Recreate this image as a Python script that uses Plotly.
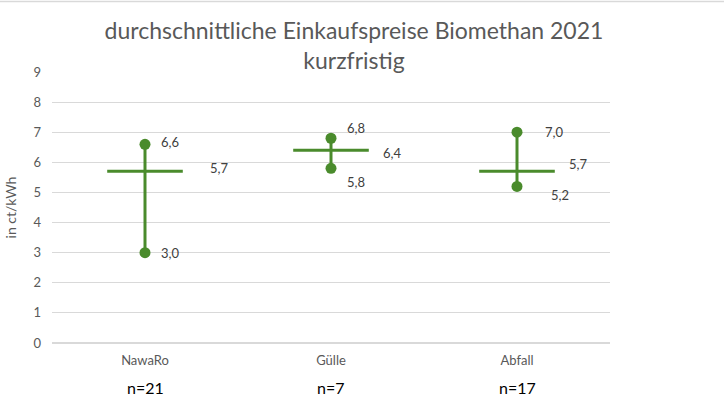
import plotly.graph_objects as go

categories = ["NawaRo", "Gülle", "Abfall"]
n_labels = ["n=21", "n=7", "n=17"]
max_vals = [6.6, 6.8, 7.0]
min_vals = [3.0, 5.8, 5.2]
avg_vals = [5.7, 6.4, 5.7]
y_ticks = [0, 1, 2, 3, 4, 5, 6, 7, 8, 9]

GREEN = "#4a8b2c"
GRAY = "#595959"
FONT = "Lato"

W, H = 724, 410
ml, mr, mt, mb = 52, 114, 72, 67

fig = go.Figure()

# high-low vertical lines with end markers
for c, lo, hi in zip(categories, min_vals, max_vals):
    fig.add_trace(go.Scatter(
        x=[c, c], y=[lo, hi], mode="lines+markers",
        line=dict(color=GREEN, width=3),
        marker=dict(color=GREEN, size=11),
        showlegend=False, hoverinfo="skip"))

# average as horizontal dash
fig.add_trace(go.Scatter(
    x=categories, y=avg_vals, mode="markers",
    marker=dict(symbol="line-ew-open", size=54, color=GREEN,
                line=dict(color=GREEN, width=3)),
    showlegend=False, hoverinfo="skip"))

def fmt(v):
    return f"{v:.1f}".replace(".", ",")

annotations = []
max_off = [(25, 2), (25, 10), (37, 0)]
min_off = [(25, 0), (25, -14), (43, -9)]
avg_off = [(74, 3), (61, -3), (61, 7)]
for i, c in enumerate(categories):
    for v, (dx, dy) in [(max_vals[i], max_off[i]), (min_vals[i], min_off[i]), (avg_vals[i], avg_off[i])]:
        annotations.append(dict(x=c, y=v, xref="x", yref="y", text=fmt(v),
                                showarrow=False, xshift=dx, yshift=dy,
                                font=dict(family=FONT, size=13, color="#404040")))
    annotations.append(dict(x=c, y=-0.165, xref="x", yref="paper", text=n_labels[i],
                            showarrow=False, yanchor="middle",
                            font=dict(family=FONT, size=16, color="black")))

fig.update_layout(
    width=W, height=H,
    margin=dict(l=ml, r=mr, t=mt, b=mb, autoexpand=False),
    paper_bgcolor="white", plot_bgcolor="white",
    title=dict(text="durchschnittliche Einkaufspreise Biomethan 2021<br>kurzfristig",
               x=354 / W, xanchor="center", y=0.905, yanchor="top",
               font=dict(family=FONT, size=23, color=GRAY)),
    xaxis=dict(type="category", categoryarray=categories, range=[-0.5, 2.5],
               showgrid=False, showline=False, ticks="", automargin=False,
               ticklabelstandoff=8,
               tickfont=dict(family=FONT, size=13, color=GRAY)),
    yaxis=dict(range=[0, 9], tickvals=y_ticks, showgrid=True, gridcolor="#d9d9d9",
               gridwidth=1, zeroline=True, zerolinecolor="#d9d9d9", ticks="",
               automargin=False, ticklabelstandoff=10,
               tickfont=dict(family=FONT, size=13, color=GRAY),
               title=dict(text="in ct/kWh", font=dict(family=FONT, size=14, color=GRAY), standoff=13)),
    annotations=annotations,
    shapes=[dict(type="line", xref="paper", yref="paper",
                 x0=-ml / 558, x1=(W - ml) / 558,
                 y0=(H - mb - 1.5) / 271, y1=(H - mb - 1.5) / 271,
                 line=dict(color="#d9d9d9", width=1.5), layer="below")],
)

fig.write_html("out.html", config={"displayModeBar": False},
               post_script="document.body.style.margin='0';document.body.style.overflow='hidden';")
